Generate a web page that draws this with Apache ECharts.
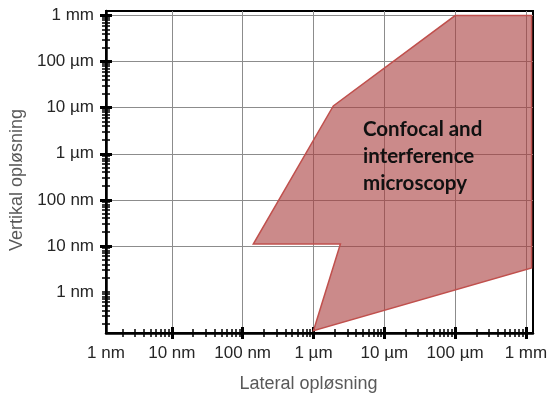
<!DOCTYPE html>
<html>
<head>
<meta charset="utf-8">
<script src="https://cdn.jsdelivr.net/npm/echarts@6/dist/echarts.min.js"></script>
<style>
html, body { margin: 0; padding: 0; background: #fff; }
#main { width: 556px; height: 398px; }
</style>
</head>
<body>
<div id="main"></div>
<script>
// all values are log10 of a size in nm
const xTickLabels = ['1 nm', '10 nm', '100 nm', '1 µm', '10 µm', '100 µm', '1 mm'];
const yTickLabels = ['1 nm', '10 nm', '100 nm', '1 µm', '10 µm', '100 µm', '1 mm'];
const xRange = [0.07, 6.1];
const yRange = [-0.89, 6.1];
// outline of the "Confocal and interference microscopy" region
const regionX = [5, 6.08, 6.08, 3, 3.38, 2.15, 3.28];
const regionY = [6, 6, 0.52, -0.84, 1.04, 1.04, 4.04];
const regionText = ['Confocal and', 'interference', 'microscopy'];

// decade + 2..9 ticks of a log scale
function logTicks(lo, hi) {
  let out = [];
  for (let n = Math.floor(lo); n <= Math.ceil(hi); n++) {
    for (let k = 1; k < 10; k++) {
      let v = n + Math.log10(k);
      if (v >= lo && v <= hi) out.push(v);
    }
  }
  return out;
}
const decades = [1, 2, 3, 4, 5, 6];
const xAll = logTicks(xRange[0], xRange[1]);
const yAll = logTicks(yRange[0], yRange[1]);
const yMajor = [0].concat(decades);
const xLabelAt = [xRange[0]].concat(decades); // first label sits at the axis start

const labelFont = { color: '#262626', fontSize: 17, fontFamily: 'Liberation Sans, Arial' };
const hidden = { show: false };

function makeAxes(range, pos, all, major, labelAt, names, axisName) {
  let base = { type: 'value', min: range[0], max: range[1], position: pos, splitLine: hidden, axisLabel: hidden };
  let noLine = { show: false, onZero: false };
  return [
    Object.assign({}, base, {
      name: axisName,
      nameLocation: 'middle',
      axisLine: { show: true, onZero: false, lineStyle: { color: '#000', width: 2.5 } },
      axisTick: { show: true, customValues: all, length: 4, lineStyle: { color: '#000', width: 1.5 } },
      axisLabel: Object.assign({ show: true, customValues: labelAt, margin: 12,
        formatter: v => names[Math.round(v)] }, labelFont)
    }),
    Object.assign({}, base, {
      axisLine: noLine,
      axisTick: { show: true, inside: true, customValues: all, length: 4, lineStyle: { color: '#000', width: 1.5 } }
    }),
    Object.assign({}, base, {
      axisLine: noLine,
      axisTick: { show: true, customValues: major, length: 6, lineStyle: { color: '#000', width: 3 } },
      splitLine: { show: true, lineStyle: { color: '#8c8c8c', width: 1 } }
    }),
    Object.assign({}, base, {
      axisLine: noLine,
      axisTick: { show: true, inside: true, customValues: major, length: 6, lineStyle: { color: '#000', width: 3 } }
    })
  ];
}

const xAxes = makeAxes(xRange, 'bottom', xAll, decades, xLabelAt, xTickLabels, 'Lateral opløsning');
xAxes[0].nameGap = 42;
xAxes[0].nameTextStyle = { color: '#595959', fontSize: 18, fontFamily: 'Liberation Sans, Arial', padding: [0, 22, 0, 0] };
const yAxes = makeAxes(yRange, 'left', yAll, decades, yMajor, yTickLabels, 'Vertikal opløsning');
yAxes[0].nameGap = 79;
yAxes[0].nameTextStyle = { color: '#595959', fontSize: 18, fontFamily: 'Liberation Sans, Arial', padding: [0, 16, 0, 0] };

let chart = echarts.init(document.getElementById('main'));
let option = {
  animation: false,
  backgroundColor: '#fff',
  grid: {
    left: 106, right: 23, top: 11, bottom: 65,
    show: true, borderColor: '#000', borderWidth: 2,
    outerBoundsMode: 'none', containLabel: false
  },
  xAxis: xAxes,
  yAxis: yAxes,
  series: [{
    type: 'custom',
    xAxisIndex: 0,
    yAxisIndex: 0,
    silent: true,
    data: regionX.map((x, i) => [x, regionY[i]]),
    renderItem: function (params, api) {
      if (params.dataIndex !== 0) return;
      let pts = regionX.map((x, i) => api.coord([x, regionY[i]]));
      return {
        type: 'polygon',
        shape: { points: pts },
        style: { fill: 'rgba(168,60,60,0.6)', stroke: '#c0504d', lineWidth: 1.5 }
      };
    }
  }],
  graphic: [{
    type: 'text',
    left: 363,
    top: 116,
    z: 100,
    style: {
      text: regionText.join('\n'),
      font: 'bold 20.5px Lato, "Open Sans", sans-serif',
      lineHeight: 27,
      fill: '#111'
    }
  }]
};
chart.setOption(option);
</script>
</body>
</html>
